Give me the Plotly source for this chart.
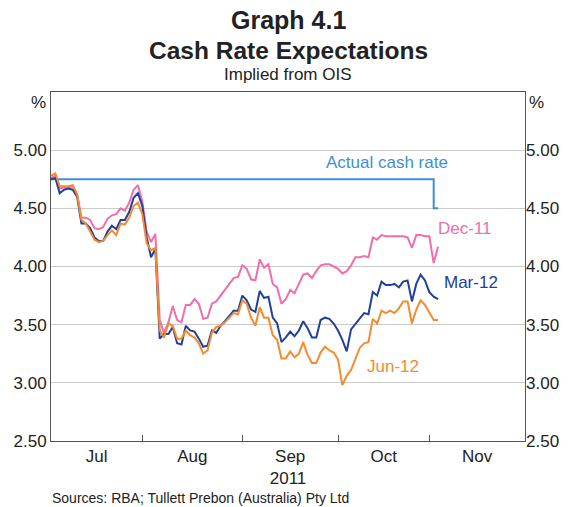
import plotly.graph_objects as go

# x = business-day index from 1 Jul 2011 (Jul 21, Aug 23, Sep 22, Oct 21, Nov 22 days)
days = list(range(90))

dec11 = [4.76, 4.78, 4.67, 4.68, 4.68, 4.69, 4.62, 4.42, 4.42, 4.40,
         4.33, 4.32, 4.34, 4.41, 4.44, 4.45, 4.50, 4.48, 4.55, 4.66,
         4.70, 4.56, 4.30, 4.21, 4.28, 3.54, 3.43, 3.52, 3.66, 3.54,
         3.52, 3.67, 3.67, 3.72, 3.68, 3.55, 3.56, 3.68, 3.70, 3.75,
         3.80, 3.86, 3.90, 3.91, 4.01, 3.98, 3.89, 3.88, 4.06, 3.99,
         4.02, 3.85, 3.82, 3.68, 3.72, 3.80, 3.77, 3.85, 3.93, 3.94,
         3.90, 3.96, 4.01, 4.02, 4.02, 4.00, 3.98, 3.94, 3.96, 4.01,
         4.08, 4.08, 4.09, 4.08, 4.25, 4.23, 4.27, 4.26, 4.26, 4.26,
         4.26, 4.26, 4.25, 4.16, 4.27, 4.27, 4.26, 4.26, 4.03, 4.17]

mar12 = [4.75, 4.76, 4.63, 4.66, 4.67, 4.66, 4.60, 4.37, 4.37, 4.33,
         4.25, 4.22, 4.22, 4.30, 4.35, 4.32, 4.40, 4.40, 4.47, 4.59,
         4.63, 4.52, 4.25, 4.08, 4.15, 3.38, 3.42, 3.42, 3.48, 3.34,
         3.33, 3.49, 3.45, 3.44, 3.38, 3.31, 3.32, 3.45, 3.43, 3.49,
         3.53, 3.58, 3.62, 3.62, 3.75, 3.71, 3.63, 3.61, 3.79, 3.73,
         3.74, 3.56, 3.51, 3.35, 3.39, 3.44, 3.40, 3.45, 3.53, 3.47,
         3.39, 3.39, 3.54, 3.56, 3.55, 3.51, 3.45, 3.37, 3.27, 3.46,
         3.51, 3.56, 3.60, 3.59, 3.78, 3.75, 3.87, 3.84, 3.84, 3.85,
         3.82, 3.87, 3.88, 3.70, 3.85, 3.93, 3.88, 3.78, 3.74, 3.72]

jun12 = [4.78, 4.80, 4.69, 4.69, 4.69, 4.70, 4.62, 4.40, 4.37, 4.30,
         4.23, 4.21, 4.22, 4.27, 4.31, 4.27, 4.37, 4.36, 4.42, 4.52,
         4.55, 4.45, 4.20, 4.14, 4.16, 3.45, 3.39, 3.51, 3.49, 3.38,
         3.38, 3.45, 3.41, 3.39, 3.34, 3.25, 3.28, 3.43, 3.48, 3.49,
         3.52, 3.56, 3.60, 3.59, 3.71, 3.68, 3.56, 3.49, 3.65, 3.56,
         3.56, 3.41, 3.37, 3.21, 3.21, 3.27, 3.22, 3.25, 3.35, 3.24,
         3.17, 3.17, 3.26, 3.31, 3.28, 3.26, 3.20, 2.98, 3.06, 3.11,
         3.20, 3.30, 3.34, 3.35, 3.55, 3.51, 3.62, 3.60, 3.62, 3.60,
         3.64, 3.70, 3.70, 3.51, 3.63, 3.71, 3.67, 3.61, 3.54, 3.54]

cash_days = [0, 88, 89]
cash_rate = [4.75, 4.50, 4.50]

month_bounds = [0, 21, 44, 66, 87, 109]
month_labels = ["Jul", "Aug", "Sep", "Oct", "Nov"]
month_mid = [(month_bounds[i] + month_bounds[i + 1]) / 2 for i in range(5)]

y_ticks = [2.5, 3.0, 3.5, 4.0, 4.5, 5.0]
y_text = ["%.2f" % v for v in y_ticks]

C_CASH = "#3f8fd4"
C_DEC = "#f06ea9"
C_MAR = "#21409a"
C_JUN = "#f58a2f"
FONT = "Liberation Sans, Arial, sans-serif"

fig = go.Figure()
fig.add_trace(go.Scatter(x=cash_days, y=cash_rate, mode="lines", line=dict(color=C_CASH, width=2, shape="hv")))
fig.add_trace(go.Scatter(x=days, y=dec11, mode="lines", line=dict(color=C_DEC, width=2)))
fig.add_trace(go.Scatter(x=days, y=mar12, mode="lines", line=dict(color=C_MAR, width=2)))
fig.add_trace(go.Scatter(x=days, y=jun12, mode="lines", line=dict(color=C_JUN, width=2)))
# invisible trace to activate right axis
fig.add_trace(go.Scatter(x=[0], y=[2.5], yaxis="y2", mode="markers", marker=dict(opacity=0), hoverinfo="skip"))

axis_line = "#555555"
fig.update_layout(
    width=577, height=507,
    margin=dict(l=51, r=52, t=92, b=66),
    paper_bgcolor="white", plot_bgcolor="white",
    showlegend=False,
    font=dict(family=FONT, size=17, color="#222222"),
    xaxis=dict(
        range=[0, 109], tickmode="array", tickvals=month_mid, ticktext=month_labels,
        ticks="", ticklen=0, showgrid=False, zeroline=False, automargin=False,
        showline=True, linecolor=axis_line, linewidth=1, mirror=True,
        minor=dict(tickmode="array", tickvals=month_bounds[1:-1], ticks="inside", ticklen=6,
                   tickcolor=axis_line, showgrid=False),
        title=dict(text="2011", standoff=6, font=dict(size=17)),
        tickfont=dict(size=17),
    ),
    yaxis=dict(
        range=[2.5, 5.5], tickmode="array", tickvals=y_ticks, ticktext=y_text,
        showgrid=True, gridcolor="#cccccc", gridwidth=1, zeroline=False, automargin=False,
        showline=True, linecolor=axis_line, linewidth=1, mirror=True, ticks="", ticklen=0,
        tickfont=dict(size=17),
    ),
    yaxis2=dict(
        range=[2.5, 5.5], overlaying="y", side="right", tickmode="array", automargin=False,
        tickvals=y_ticks, ticktext=y_text, showgrid=False, zeroline=False, ticks="", ticklen=0,
        tickfont=dict(size=17),
    ),
)

ann = [
    dict(text="<b>Graph 4.1</b>", x=0.5, y=1.206, size=25),
    dict(text="<b>Cash Rate Expectations</b>", x=0.5, y=1.120, size=24.5),
    dict(text="Implied from OIS", x=0.5, y=1.049, size=17),
]
for a in ann:
    fig.add_annotation(text=a["text"], xref="paper", yref="paper", x=a["x"], y=a["y"],
                       showarrow=False, font=dict(size=a["size"], color="#222222"),
                       xanchor="center", yanchor="middle")

fig.add_annotation(text="%", xref="paper", yref="paper", x=-0.027, y=0.971, showarrow=False,
                   font=dict(size=17), xanchor="center", yanchor="middle")
fig.add_annotation(text="%", xref="paper", yref="paper", x=1.025, y=0.971, showarrow=False,
                   font=dict(size=17), xanchor="center", yanchor="middle")
fig.add_annotation(text="Sources: RBA; Tullett Prebon (Australia) Pty Ltd", xref="paper", yref="paper",
                   x=-0.002, y=-0.163, showarrow=False, font=dict(size=14), xanchor="left", yanchor="middle")

labels = [
    ("Actual cash rate", 77.3, 4.89, C_CASH),
    ("Dec-11", 95.2, 4.33, C_DEC),
    ("Mar-12", 96.6, 3.86, C_MAR),
    ("Jun-12", 78.6, 3.14, C_JUN),
]
for t, x, y, c in labels:
    fig.add_annotation(text=t, x=x, y=y, xref="x", yref="y", showarrow=False,
                       font=dict(size=17, color=c), xanchor="center", yanchor="middle")

fig.write_html("out.html", config={"displayModeBar": False},
               post_script="document.body.style.margin='0';document.body.style.overflow='hidden';")
